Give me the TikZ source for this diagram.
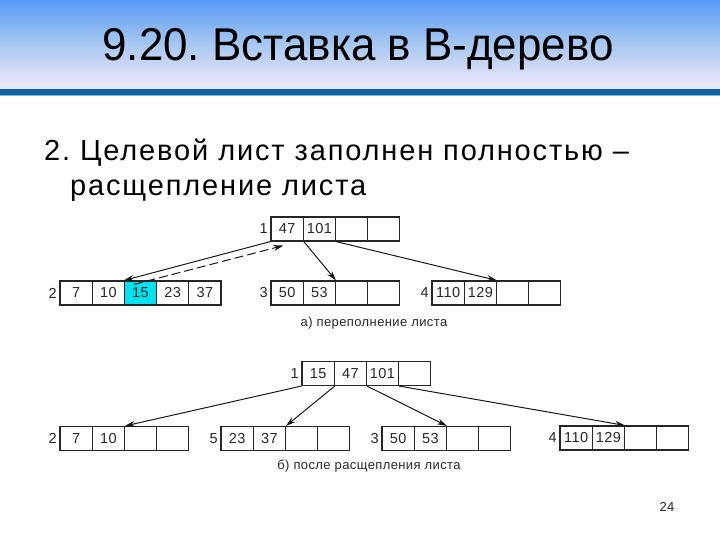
\documentclass[tikz,border=0pt]{standalone}
\usepackage{fontspec}
\setmainfont{Liberation Sans}
\newfontfamily\bodyfont[LetterSpace=6.4]{Liberation Sans}
\newfontfamily\capfont[LetterSpace=3]{Liberation Sans}
\usetikzlibrary{arrows.meta,calc}
\definecolor{topblue}{RGB}{88,152,244}
\definecolor{midblue}{RGB}{166,200,242}
\definecolor{botlav}{RGB}{240,230,248}
\definecolor{barblue}{RGB}{27,95,156}
\definecolor{barlight}{RGB}{214,238,251}
\definecolor{barcyan}{RGB}{90,200,238}
\definecolor{hicyan}{RGB}{0,226,240}
\definecolor{celltext}{RGB}{40,40,40}
\frenchspacing
\newcommand\brow[4]{%
  \foreach \v [count=\i] in {#4} {
    \node[cell] (#1-\i) at ({#2+(\i-0.5)*32.2},#3) {\v};
  }%
}
\tikzset{
  cell/.style={draw=black!85, line width=1.1pt, rectangle, minimum width=32.2pt,
    minimum height=24pt, inner sep=0pt, font=\capfont\fontsize{14.5}{15}\selectfont, text=celltext},
  lab/.style={anchor=east, inner sep=2.5pt, font=\fontsize{14.5}{15}\selectfont, text=celltext},
  ptr/.style={draw=black!90, line width=1pt, -{Stealth[length=10pt,width=6pt]}},
  dptr/.style={ptr, dash pattern=on 9pt off 4pt},
  captext/.style={font=\capfont\fontsize{13}{14}\selectfont, text=celltext}
}
\begin{document}
\begin{tikzpicture}[x=1pt,y=-1pt]
\useasboundingbox (0,0) rectangle (720,540);
\fill[white] (0,0) rectangle (720,540);
% header
\shade[top color=topblue, bottom color=botlav, middle color=midblue] (0,0) rectangle (720,87);
\fill[barlight] (0,87) rectangle (720,89);
\fill[barblue] (0,89) rectangle (720,95);
\fill[barcyan] (0,95) rectangle (720,96);
\node (title) at (358,49) {\scalebox{0.955}[1]{\fontsize{46}{50}\selectfont 9.20. Вставка в B-дерево}};
\node[anchor=base west, inner sep=0pt] (l1) at (44,161) {\bodyfont\fontsize{29}{32}\selectfont 2. Целевой лист заполнен полностью –};
\node[anchor=base west, inner sep=0pt] (l2) at (70,196) {\bodyfont\fontsize{29}{32}\selectfont расщепление листа};
% (a)
\brow{aA}{271}{229}{47,101,{},{}}
\node[lab] (laA) at (aA-1.west) {1};
\brow{aB}{60}{293}{7,10,15,23,37}
\node[lab] (laB) at (aB-1.west) {2};
\fill[hicyan] (aB-3.south west) rectangle (aB-3.north east);
\node[cell] at (aB-3) {15};
\brow{aC}{271}{293}{50,53,{},{}}
\node[lab] (laC) at (aC-1.west) {3};
\brow{aD}{432}{293}{110,129,{},{}}
\node[lab] (laD) at (aD-1.west) {4};
\draw[ptr] (aA-1.south west) -- (aB-3.north west);
\draw[dptr] ($(aB-3.north west)+(10,4)$) -- ($(aA-1.south west)+(13,4)$);
\draw[ptr] (aA-1.south east) -- (aC-2.north east);
\draw[ptr] (aA-2.south east) -- (aD-2.north east);
\node[captext] (capa) at (374,323) {а) переполнение листа};
% (b)
\brow{bA}{302}{373.5}{15,47,101,{}}
\node[lab] (lbA) at (bA-1.west) {1};
\brow{bB}{60}{438.5}{7,10,{},{}}
\node[lab] (lbB) at (bB-1.west) {2};
\brow{bC}{221}{438.5}{23,37,{},{}}
\node[lab] (lbC) at (bC-1.west) {5};
\brow{bD}{382}{438.5}{50,53,{},{}}
\node[lab] (lbD) at (bD-1.west) {3};
\brow{bE}{560}{438}{110,129,{},{}}
\node[lab] (lbE) at (bE-1.west) {4};
\draw[ptr] (bA-1.south west) -- (bB-2.north east);
\draw[ptr] (bA-1.south east) -- (bC-2.north east);
\draw[ptr] (bA-2.south east) -- (bD-2.north east);
\draw[ptr] (bA-3.south east) -- (bE-2.north east);
\node[captext] (capb) at (369,466) {б) после расщепления листа};
\node[captext] (page) at (667,507) {24};
\end{tikzpicture}
\end{document}
